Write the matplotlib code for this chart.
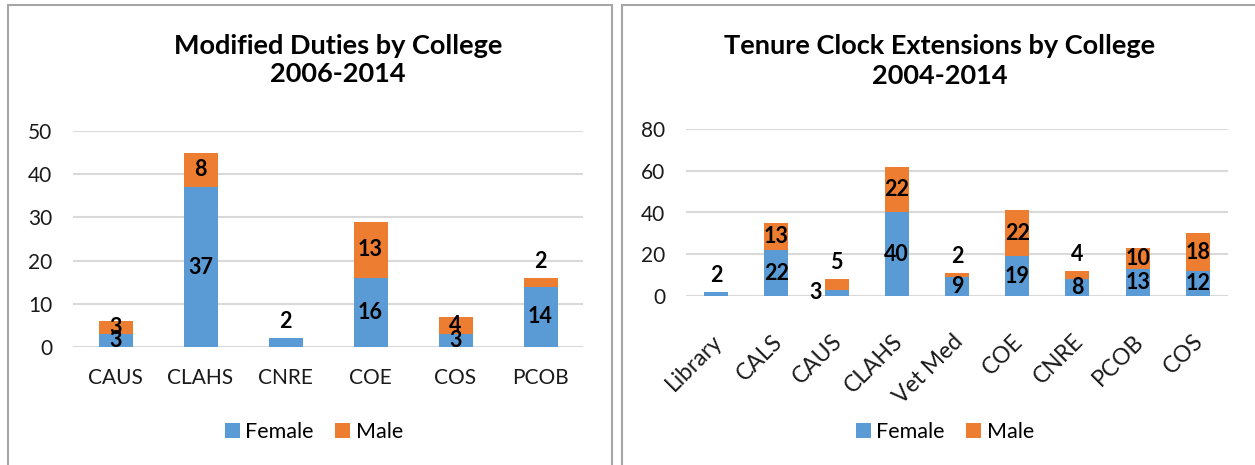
import matplotlib
matplotlib.use("Agg")
import matplotlib.pyplot as plt
from matplotlib.patches import Rectangle
from matplotlib.transforms import ScaledTranslation
import numpy as np

# ---- data ----
md_colleges = ["CAUS", "CLAHS", "CNRE", "COE", "COS", "PCOB"]
md_female = [3, 37, 2, 16, 3, 14]
md_male = [3, 8, 0, 13, 4, 2]

tc_colleges = ["Library", "CALS", "CAUS", "CLAHS", "Vet Med", "COE", "CNRE", "PCOB", "COS"]
tc_female = [2, 22, 3, 40, 9, 19, 8, 13, 12]
tc_male = [0, 13, 5, 22, 2, 22, 4, 10, 18]

md_title = "Modified Duties by College\n2006-2014"
tc_title = "Tenure Clock Extensions by College\n2004-2014"

# ---- style ----
FONT = "Lato"
BLUE = "#5B9BD5"
ORANGE = "#ED7D31"
GRID = "#D9D9D9"
BORDER = "#A6A6A6"
W, H = 1255, 465

plt.rcParams["font.family"] = [FONT, "DejaVu Sans"]

fig = plt.figure(figsize=(W / 100, H / 100), dpi=100)


def fx(px):
    return px / W


def fy(py):
    return 1 - py / H


# panel borders
for x0, x1 in [(8, 612), (622, 1262)]:
    fig.patches.append(Rectangle((fx(x0), fy(470)), fx(x1 - x0), fy(5) - fy(470),
                                 transform=fig.transFigure, fill=False,
                                 edgecolor=BORDER, linewidth=1.5))


def make_panel(rect, cats, fem, mal, ymax, step, title, title_xy, legend_xy,
               rotate, overrides):
    ax = fig.add_axes(rect)
    x = np.arange(len(cats))
    ax.bar(x, fem, width=0.4, color=BLUE, label="Female", zorder=3)
    ax.bar(x, mal, width=0.4, bottom=fem, color=ORANGE, label="Male", zorder=3)
    ax.set_xlim(-0.5, len(cats) - 0.5)
    ax.set_ylim(0, ymax)
    ax.set_yticks(np.arange(0, ymax + 1, step))
    ax.yaxis.grid(True, color=GRID, linewidth=1.5, zorder=0)
    ax.set_axisbelow(True)
    for s in ax.spines.values():
        s.set_visible(False)
    ax.tick_params(axis="both", length=0, labelsize=15, colors="#000000",
                   labelcolor="#1a1a1a")
    ax.tick_params(axis="y", pad=15)
    ax.set_xticks(x)
    if rotate:
        ax.set_xticklabels(cats, rotation=45, ha="right", rotation_mode="anchor",
                           fontsize=16.5)
        ax.tick_params(axis="x", pad=12)
        shift = ScaledTranslation(-5 / 100, -18 / 100, fig.dpi_scale_trans)
        for lab in ax.get_xticklabels():
            lab.set_transform(lab.get_transform() + shift)
    else:
        ax.set_xticklabels(cats)
        ax.tick_params(axis="x", pad=15)

    # data labels
    for i in range(len(cats)):
        for seg, (val, base) in enumerate([(fem[i], 0), (mal[i], fem[i])]):
            if val == 0:
                continue
            mode = overrides.get((i, seg), "center")
            top = fem[i] + mal[i]
            kw = dict(fontsize=15.5, fontweight="bold", zorder=5,
                      ha="center", va="center")
            if mode == "center":
                ax.text(i, base + val / 2, str(val), **kw)
            elif mode == "above":
                ax.annotate(str(val), (i, top), xytext=(0, 12),
                            textcoords="offset points",
                            annotation_clip=False, **kw)
            elif mode == "left":
                ax.annotate(str(val), (i, base + val), xytext=(-15, -2),
                            textcoords="offset points",
                            annotation_clip=False, **kw)

    fig.text(fx(title_xy[0]), fy(title_xy[1]), title, ha="center", va="center",
             fontsize=19.5, fontweight="bold", linespacing=1.25)
    fig.legend(*ax.get_legend_handles_labels(), loc="center",
               bbox_to_anchor=(fx(legend_xy[0]), fy(legend_xy[1])), ncol=2,
               frameon=False, fontsize=15.5, handlelength=0.7, handleheight=0.7,
               handletextpad=0.25, columnspacing=1.0)
    return ax


# left panel: plot area 73..583 px, y 131..347 px
make_panel([fx(73), fy(347), fx(583 - 73), fy(131) - fy(347)],
           md_colleges, md_female, md_male, 50, 10, md_title,
           (338, 60), (314, 432), False,
           {(2, 0): "above", (5, 1): "above"})

# right panel: plot area 686..1228 px, y 129..296 px
make_panel([fx(686), fy(296), fx(1228 - 686), fy(129) - fy(296)],
           tc_colleges, tc_female, tc_male, 80, 20, tc_title,
           (940, 61), (945, 432), True,
           {(0, 0): "above", (2, 1): "above", (4, 1): "above", (6, 1): "above",
            (2, 0): "left"})

fig.savefig("out.png", dpi=100, facecolor="white")
